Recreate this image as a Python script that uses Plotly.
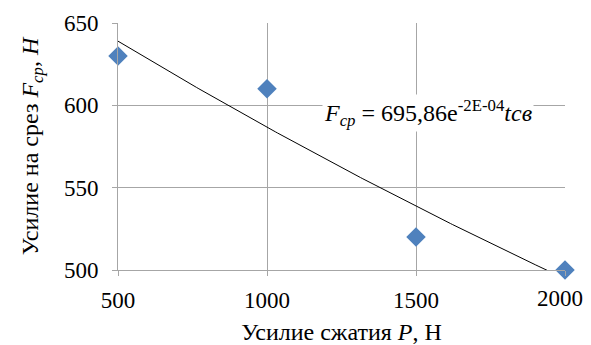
import numpy as np
import plotly.graph_objects as go

# Data
press_force = [500, 1000, 1500, 2000]          # Усилие сжатия P, Н
shear_force = [630, 610, 520, 500]             # Усилие на срез Fcp, H
x_ticks = [500, 1000, 1500, 2000]
x_tick_labels = ["500", "1000", "1500", "2000"]
y_ticks = [500, 550, 600, 650]

# Exponential trendline fitted to data
k, lnA = np.polyfit(press_force, np.log(shear_force), 1)
xt = np.linspace(min(press_force), max(press_force), 200)
yt = np.exp(lnA) * np.exp(k * xt)

fig = go.Figure()
fig.add_trace(go.Scatter(x=xt, y=yt, mode="lines",
                         line=dict(color="black", width=1), hoverinfo="skip"))
fig.add_trace(go.Scatter(x=press_force, y=shear_force, mode="markers",
                         marker=dict(symbol="diamond", size=15, color="#4F81BD",
                                     line=dict(width=0)),
                         cliponaxis=False))

font_serif = "Liberation Serif, Times New Roman, serif"

fig.add_annotation(
    x=1540, y=595.5, xref="x", yref="y",
    text=f"<i>F<sub>cp</sub></i> = {np.exp(lnA):.2f}".replace(".", ",") + "e<sup>-2E-04</sup><i>tcв</i>",
    showarrow=False, bgcolor="white",
    font=dict(family=font_serif, size=24, color="black"),
)

# last tick label drawn as annotation so it stays inside the figure (shifted left, as in the reference)
fig.add_annotation(
    x=x_ticks[-1], y=0, xref="x", yref="paper",
    text=x_tick_labels[-1], showarrow=False,
    xanchor="center", yanchor="top", xshift=-5, yshift=-14,
    font=dict(family=font_serif, size=23, color="black"),
)

fig.update_layout(
    width=583, height=337,
    margin=dict(l=110, r=26, t=15, b=75),
    paper_bgcolor="white", plot_bgcolor="white",
    showlegend=False,
    font=dict(family=font_serif, color="black", size=23),
)
fig.update_xaxes(
    range=[500, 2000], tickvals=x_ticks, ticktext=x_tick_labels[:-1] + [""],
    showgrid=True, gridcolor="#A6A6A6", gridwidth=1,
    showline=True, linecolor="#A6A6A6", linewidth=1,
    ticks="outside", ticklen=5, tickcolor="#A6A6A6",
    zeroline=False, automargin=False,
    tickfont=dict(size=23, family=font_serif),
    ticklabelstandoff=4,
    title=dict(text="Усилие сжатия <i>P</i>, Н", font=dict(size=24, family=font_serif), standoff=13),
)
fig.update_yaxes(
    range=[500, 650], tickvals=y_ticks, ticktext=[str(v) for v in y_ticks],
    showgrid=True, gridcolor="#A6A6A6", gridwidth=1,
    showline=True, linecolor="#A6A6A6", linewidth=1,
    ticks="outside", ticklen=5, tickcolor="#A6A6A6",
    zeroline=False, automargin=False,
    tickfont=dict(size=23, family=font_serif),
    ticklabelstandoff=9,
    title=dict(text="Усилие на срез <i>F<sub>cp</sub></i>, <i>H</i>", font=dict(size=24, family=font_serif), standoff=18),
)

fig.write_html("out.html")
